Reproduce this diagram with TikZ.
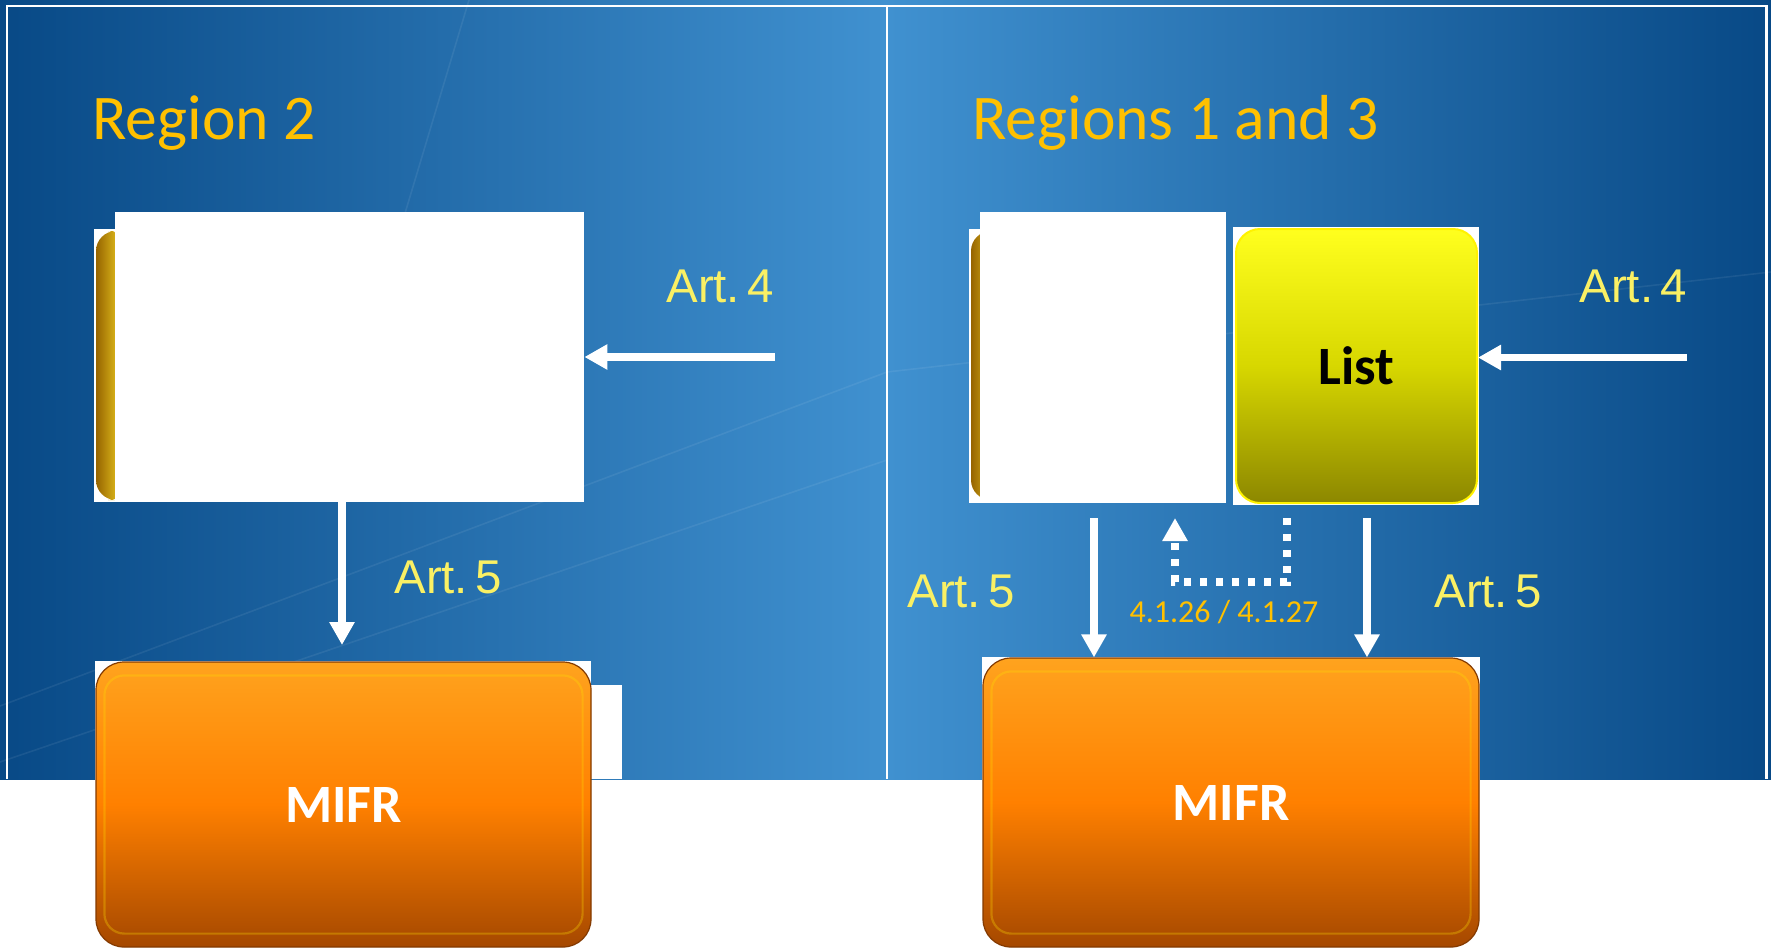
\documentclass[tikz,border=0pt]{standalone}
\usepackage{fontspec}
\setmainfont{Carlito}
\newfontfamily\artfont{Liberation Sans}
\usetikzlibrary{arrows.meta,calc}
\definecolor{bgdark}{RGB}{8,73,134}
\definecolor{bglight}{RGB}{64,145,208}
\definecolor{ttl}{RGB}{255,192,0}
\definecolor{artc}{RGB}{250,240,100}
\definecolor{or1}{RGB}{255,163,30}
\definecolor{or2}{RGB}{255,128,0}
\definecolor{or3}{RGB}{165,72,0}
\definecolor{ye1}{RGB}{255,255,30}
\definecolor{ye2}{RGB}{215,215,0}
\definecolor{ye3}{RGB}{140,135,0}
\definecolor{gd1}{RGB}{150,100,0}
\definecolor{gd2}{RGB}{255,225,40}
\tikzset{
  mifrbox/.style={rounded corners=14pt, top color=or1, bottom color=or3, middle color=or2,
    draw=or3!80!black, line width=0.6pt, text=white, font=\bfseries\fontsize{27}{27}\selectfont,
    inner sep=0pt, minimum width=247.5pt, minimum height=142.5pt},
  listbox/.style={rounded corners=12pt, top color=ye1, bottom color=ye3, middle color=ye2,
    draw=yellow, line width=1pt, text=black, font=\bfseries\fontsize{27}{27}\selectfont,
    inner sep=0pt, minimum width=120.5pt, minimum height=137pt},
  blankbox/.style={fill=white, draw=none, inner sep=0pt},
  wline/.style={white, line width=3.7pt, -{Triangle[width=12pt,length=11.5pt]}},
  dotline/.style={white, line width=3.6pt, dash pattern=on 3.6pt off 4.4pt, -{Triangle[width=12pt,length=11.5pt]}},
  ttlstyle/.style={text=ttl, font=\fontsize{31.8}{32}\selectfont, inner sep=0pt, anchor=base west},
  artstyle/.style={text=artc, font=\artfont\fontsize{23.7}{24}\selectfont, inner sep=0pt, anchor=base west},
  hilite/.style={draw=yellow!80!orange, opacity=0.3, line width=1.1pt, rounded corners=10pt},
  streak/.style={white, opacity=0.07, line width=0.8pt}
}
\begin{document}
\begin{tikzpicture}[x=0.5pt,y=-0.5pt]
\useasboundingbox (0,0) rectangle (1771,948);
\fill[white] (0,0) rectangle (1771,948);
% background
\shade[left color=bgdark, right color=bglight] (0,0) rectangle (887,779);
\shade[left color=bglight, right color=bgdark] (887,0) rectangle (1771,779);
\draw[streak] (0,706) -- (887,372) -- (1771,272);
\draw[streak] (0,762) -- (887,460);
\draw[streak] (469,0) -- (400,230);
% frame
\draw[white, line width=1.2pt] (7,779) -- (7,6) -- (1766.5,6) -- (1766.5,779);
\draw[white, line width=1.2pt] (887,6) -- (887,779);
% titles
\node[ttlstyle] (t1) at (92,139) {Region 2};
\node[ttlstyle] (t2) at (972,139) {Regions 1 and 3};
% left panel top
\fill[white] (94,229) rectangle (115,502);
\shade[left color=gd1, right color=gd2, rounded corners=10pt] (96,231) rectangle (128,500);
\node[blankbox, minimum width=234.5pt, minimum height=145pt] (hidL) at (349.5,357) {};
% right panel top
\fill[white] (969,229) rectangle (980,503);
\shade[left color=gd1, right color=gd2, rounded corners=10pt] (971,231) rectangle (1003,500);
\node[blankbox, minimum width=123pt, minimum height=145.5pt] (hidR) at (1103,357.5) {};
\fill[white] (1233,227) rectangle (1479,505);
\node[listbox] (list) at (1356.5,366) {List};
% MIFR boxes
\fill[white] (95,661) rectangle (591,948);
\fill[white] (591,685) rectangle (622,779);
\node[mifrbox] (mifrL) at (343.5,804.5) {MIFR};
\draw[hilite] ($(mifrL.north west)+(9,14)$) rectangle ($(mifrL.south east)+(-9,-14)$);
\fill[white] (982,657) rectangle (1480,948);
\node[mifrbox, minimum width=248pt, minimum height=144.5pt] (mifrR) at (1231,802.5) {MIFR};
\draw[hilite] ($(mifrR.north west)+(9,14)$) rectangle ($(mifrR.south east)+(-9,-14)$);
% labels
\node[artstyle] (a4l) at (666,302) {Art.\hspace{0.16em}4};
\node[artstyle] (a4r) at (1579,302) {Art.\hspace{0.16em}4};
\node[artstyle] (a5l) at (394,593) {Art.\hspace{0.16em}5};
\node[artstyle] (a5m) at (907,607) {Art.\hspace{0.16em}5};
\node[artstyle] (a5r) at (1434,607) {Art.\hspace{0.16em}5};
\node[text=ttl, font=\fontsize{16}{16}\selectfont, inner sep=0pt, anchor=base] (lbl) at (1224,622) {4.1.26 / 4.1.27};
% connectors
\coordinate (a4Ls) at (775,357);
\draw[wline] (a4Ls) -- (hidL.east);
\coordinate (a5Lt) at (342,645);
\draw[wline] (hidL.south -| a5Lt) -- (a5Lt);
\coordinate (a4Rs) at (1687,357.5);
\draw[wline] (a4Rs) -- (list.east |- a4Rs);
\coordinate (d1) at (1094,518);
\coordinate (d2) at (1367,518);
\draw[wline] (d1) -- (mifrR.north -| d1);
\draw[wline] (d2) -- (mifrR.north -| d2);
\coordinate (p1) at (1287,518);
\coordinate (p2) at (1175,518);
\draw[dotline] (p1) -- ++(0,64) -| (p2);
\end{tikzpicture}
\end{document}
